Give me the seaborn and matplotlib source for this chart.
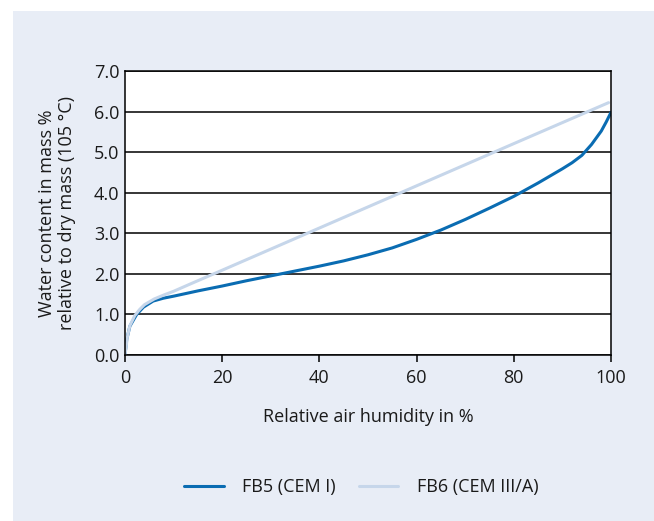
import numpy as np
import pandas as pd
import matplotlib
matplotlib.use("Agg")
import matplotlib.pyplot as plt
from matplotlib.patches import Rectangle
import seaborn as sns

# Sorption isotherms: water content vs. relative air humidity
rh_fb5 = [0, 0.35, 1, 2.4, 3.8, 5.8, 7.9, 10, 12.7, 15, 20, 25, 30, 35, 40,
          45, 50, 55, 60, 65, 70, 75, 80, 85, 90, 92, 94, 96, 98, 99, 100]
wc_fb5 = [0.0, 0.38, 0.71, 1.0, 1.18, 1.33, 1.40, 1.45, 1.52, 1.58, 1.70,
          1.83, 1.95, 2.07, 2.19, 2.32, 2.47, 2.64, 2.85, 3.08, 3.34, 3.62,
          3.91, 4.24, 4.59, 4.74, 4.92, 5.19, 5.52, 5.74, 5.98]

rh_fb6 = [0, 0.5, 1, 2, 3, 4, 6, 8, 10, 14, 20, 40, 60, 80, 99.5]
wc_fb6 = [0.0, 0.45, 0.72, 0.97, 1.12, 1.24, 1.38, 1.48, 1.57, 1.78, 2.09,
          3.13, 4.17, 5.21, 6.22]

series_names = ["FB5 (CEM I)", "FB6 (CEM III/A)"]
series_colors = ["#0a6cb2", "#c6d6ea"]

x_ticks = [0, 20, 40, 60, 80, 100]
y_ticks = [0, 1, 2, 3, 4, 5, 6, 7]

df = pd.concat([
    pd.DataFrame({"rh": rh_fb5, "wc": wc_fb5, "series": series_names[0]}),
    pd.DataFrame({"rh": rh_fb6, "wc": wc_fb6, "series": series_names[1]}),
], ignore_index=True)

sns.set_style("ticks")
plt.rcParams["font.family"] = ["Open Sans", "DejaVu Sans"]

W, H = 654, 521
FS = 13
fig = plt.figure(figsize=(W / 100, H / 100), dpi=100, facecolor="white")
panel = Rectangle((13 / W, 0), 1 - 13 / W, (H - 11) / H,
                  transform=fig.transFigure, facecolor="#e8edf6",
                  edgecolor="none", zorder=-10)
fig.add_artist(panel)

ax = fig.add_axes([125 / W, (H - 355) / H, 486 / W, 284 / H])
ax.set_zorder(1)
ax.set_facecolor("white")

sns.lineplot(data=df, x="rh", y="wc", hue="series", hue_order=series_names,
             palette=series_colors, linewidth=2.2, ax=ax, legend=False,
             sort=False, estimator=None)

ax.set_xlim(0, 100)
ax.set_ylim(0, 7)
ax.set_xticks(x_ticks)
ax.set_xticklabels([str(t) for t in x_ticks])
ax.set_yticks(y_ticks)
ax.set_yticklabels([f"{t:.1f}" for t in y_ticks])
ax.yaxis.grid(True, color="black", linewidth=1.1)
ax.set_axisbelow(True)
for s in ax.spines.values():
    s.set_color("black")
    s.set_linewidth(1.1)
ax.tick_params(axis="x", length=5, width=1.1, color="black", labelsize=FS,
               pad=5, labelcolor="#1a1a1a")
ax.tick_params(axis="y", length=0, labelsize=FS, pad=4, labelcolor="#1a1a1a")

ax.set_xlabel("Relative air humidity in %", fontsize=FS, labelpad=15,
              color="#1a1a1a")
ax.set_ylabel("Water content in mass %\nrelative to dry mass (105 °C)",
              fontsize=FS, labelpad=13, color="#1a1a1a", linespacing=1.1)

handles = [plt.Line2D([], [], color=c, linewidth=2.2) for c in series_colors]
fig.legend(handles, series_names, loc="center", bbox_to_anchor=(361 / W, 1 - 487 / H),
           ncol=2, frameon=False, fontsize=FS, handlelength=2.2,
           handletextpad=1.0, columnspacing=1.3, labelcolor="#1a1a1a")

fig.savefig("out.png", dpi=100, facecolor="white")
